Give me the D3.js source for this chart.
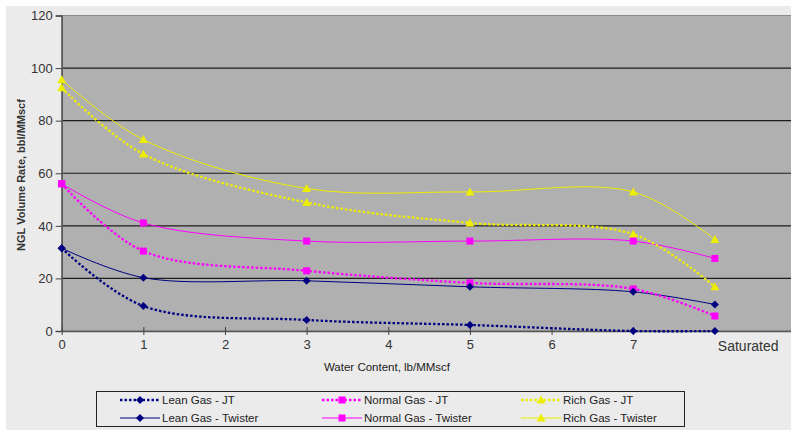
<!DOCTYPE html>
<html><head><meta charset="utf-8">
<script src="https://cdn.jsdelivr.net/npm/d3@7"></script>
<style>html,body{margin:0;padding:0;background:#fff;}svg{display:block;font-family:Arial,"Liberation Sans",sans-serif;}</style>
</head><body>
<svg id="c" width="791" height="430"></svg>
<script>
const xValues = [0, 1, 3, 5, 7, 8];
const xTicks = [0, 1, 2, 3, 4, 5, 6, 7];
const yTicks = [0, 20, 40, 60, 80, 100, 120];
const leanJT = [31.5, 9.5, 4.2, 2.3, 0, 0];
const leanTwister = [31.5, 20.3, 19.1, 16.8, 14.9, 10.1];
const normalJT = [56, 30.4, 22.9, 18.3, 16, 5.7];
const normalTwister = [56, 41.1, 34.2, 34.2, 34.2, 27.6];
const richJT = [92.5, 67.3, 48.9, 41.1, 36.8, 16.8];
const richTwister = [95.6, 72.8, 54.2, 52.9, 52.9, 34.8];
const seriesNames = ["Lean Gas - JT","Normal Gas - JT","Rich Gas - JT","Lean Gas - Twister","Normal Gas - Twister","Rich Gas - Twister"];
const satLabel = "Saturated";

const navy = "#000080", mag = "#ff00ff", yel = "#eeee00";
const series = [
  {name: seriesNames[0], values: leanJT, color: navy, dash: "2.5,2", width: 2.3, marker: "diamond"},
  {name: seriesNames[1], values: normalJT, color: mag, dash: "2.5,2", width: 2.3, marker: "square"},
  {name: seriesNames[2], values: richJT, color: yel, dash: "2.5,2", width: 2.3, marker: "triangle"},
  {name: seriesNames[3], values: leanTwister, color: navy, dash: null, width: 1, marker: "diamond"},
  {name: seriesNames[4], values: normalTwister, color: mag, dash: null, width: 1, marker: "square"},
  {name: seriesNames[5], values: richTwister, color: yel, dash: null, width: 1, marker: "triangle"}
];

const svg = d3.select("#c");
svg.append("rect").attr("x",6).attr("y",6).attr("width",791).attr("height",430).attr("fill","#ebebeb");

const x = d3.scaleLinear().domain([0, 9]).range([61.7, 796.5]);
const y = d3.scaleLinear().domain([0, 120]).range([331, 15.5]);

svg.append("rect").attr("x", x(0)).attr("y", y(120)).attr("width", x(9)-x(0)).attr("height", y(0)-y(120))
  .attr("fill", "#b0b0b0").attr("stroke", "#8a8a8a").attr("stroke-width", 1);

// gridlines
svg.append("g").selectAll("line").data(yTicks.filter(d => d > 0 && d < 120)).join("line")
  .attr("x1", x(0)).attr("x2", x(9)).attr("y1", d => y(d)).attr("y2", d => y(d))
  .attr("stroke", "#1e1e1e").attr("stroke-width", 1.2);

// axes
const yAxis = svg.append("g").attr("transform", `translate(${x(0)},0)`)
  .call(d3.axisLeft(y).tickValues(yTicks).tickSize(6).tickPadding(3));
yAxis.select(".domain").attr("stroke", "#555").attr("stroke-width", 1.5);
yAxis.selectAll(".tick line").attr("stroke", "#444");
yAxis.selectAll("text").attr("font-size", 13).attr("fill", "#333").attr("font-family", "Arial, Liberation Sans, sans-serif");

const xAxis = svg.append("g").attr("transform", `translate(0,${y(0)})`)
  .call(d3.axisBottom(x).tickValues(xTicks).tickSize(0).tickPadding(9).tickFormat(d3.format("d")));
xAxis.select(".domain").attr("stroke", "#555").attr("stroke-width", 1.5);
xAxis.selectAll(".tick line").attr("y1", -4).attr("y2", 4).attr("stroke", "#444");
xAxis.selectAll("text").attr("font-size", 13).attr("fill", "#333").attr("font-family", "Arial, Liberation Sans, sans-serif");

svg.append("text").attr("x", x(8) + 3).attr("y", 351).attr("font-size", 14).attr("fill", "#333").text(satLabel);

// titles
svg.append("text").attr("x", 387).attr("y", 371).attr("text-anchor", "middle").attr("font-size", 11.5).attr("fill", "#222")
  .text("Water Content, lb/MMscf");
svg.append("text").attr("transform", "translate(25,175) rotate(-90)").attr("text-anchor", "middle")
  .attr("font-size", 11).attr("font-weight", "bold").attr("fill", "#333").text("NGL Volume Rate, bbl/MMscf");

// lines
const line = d3.line().x((d, i) => x(xValues[i])).y(d => y(d)).curve(d3.curveCatmullRom.alpha(0.5));
function marker(g, type, cx, cy, color) {
  if (type === "diamond") g.append("path").attr("d", `M${cx},${cy-4}L${cx+4},${cy}L${cx},${cy+4}L${cx-4},${cy}Z`).attr("fill", color);
  else if (type === "square") g.append("rect").attr("x", cx-3.5).attr("y", cy-3.5).attr("width", 7).attr("height", 7).attr("fill", color);
  else g.append("path").attr("d", `M${cx},${cy-4.5}L${cx+4.5},${cy+3.5}L${cx-4.5},${cy+3.5}Z`).attr("fill", color);
}
const plot = svg.append("g");
series.slice().reverse().forEach(s => {
  plot.append("path").datum(s.values).attr("d", line).attr("fill", "none")
    .attr("stroke", s.color).attr("stroke-width", s.width).attr("stroke-dasharray", s.dash);
});
series.forEach(s => {
  s.values.forEach((v, i) => marker(plot, s.marker, x(xValues[i]), y(v), s.color));
});

// legend
const lg = svg.append("g");
lg.append("rect").attr("x", 96.5).attr("y", 391.5).attr("width", 588).attr("height", 35).attr("fill", "#ebebeb").attr("stroke", "#222").attr("stroke-width", 1);
const colX = [120, 322, 521];
const rowY = [400, 418];
series.forEach((s, i) => {
  const cx = colX[i % 3], cy = rowY[Math.floor(i / 3)];
  lg.append("line").attr("x1", cx).attr("x2", cx + 40).attr("y1", cy).attr("y2", cy)
    .attr("stroke", s.color).attr("stroke-width", s.width).attr("stroke-dasharray", s.dash);
  marker(lg, s.marker, cx + 20, cy, s.color);
  lg.append("text").attr("x", cx + 42).attr("y", cy + 4).attr("font-size", 11.5).attr("fill", "#222").text(s.name);
});
</script>
</body></html>
